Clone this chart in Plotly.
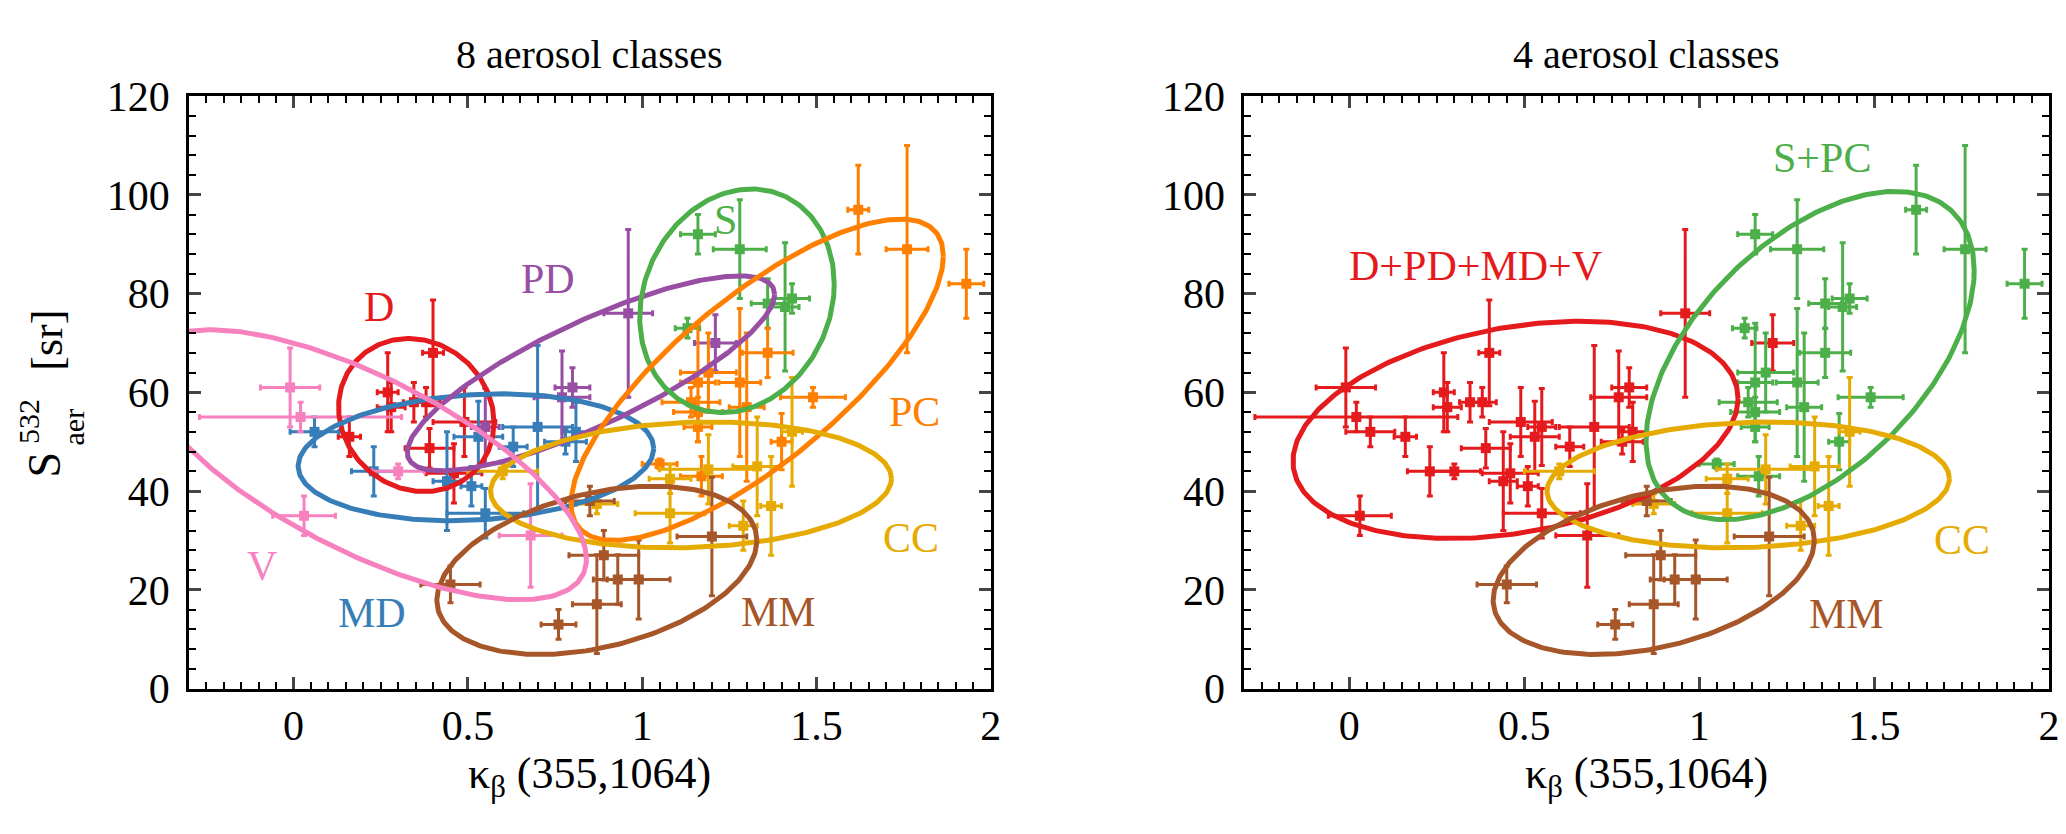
import numpy as np
import plotly.graph_objects as go

# ---- data: kappa_beta(355,1064) vs lidar ratio S_aer(532), per aerosol class ----
d_x = [0.16, 0.27, 0.28, 0.345, 0.38, 0.40, 0.39, 0.49, 0.46]
d_y = [51, 60, 57, 58, 58, 68, 48.7, 54, 43.6]
d_xerr = [0.032, 0.03, 0.04, 0.03, 0.04, 0.03, 0.07, 0.09, 0.08]
d_yerr = [4, 8, 5, 4, 3, 10.7, 4, 7, 6]

md_x = [0.06, 0.23, 0.44, 0.51, 0.55, 0.53, 0.63, 0.70, 0.78, 0.81]
md_y = [52, 44, 42, 41, 35.5, 51, 49, 53, 50, 52]
md_xerr = [0.07, 0.064, 0.04, 0.03, 0.11, 0.07, 0.04, 0.1, 0.06, 0.04]
md_yerr = [3, 5, 10, 4, 5, 7.2, 4, 16.5, 2.5, 6]

pd_x = [0.55, 0.77, 0.80, 0.96, 1.21]
pd_y = [53, 59, 61, 76, 70]
pd_xerr = [0.04, 0.08, 0.05, 0.07, 0.06]
pd_yerr = [7.8, 9.4, 4, 17, 5.7]

v_x = [-0.01, 0.02, 0.03, 0.30, 0.68]
v_y = [61, 55, 35, 44, 31]
v_xerr = [0.085, 0.29, 0.09, 0.075, 0.09]
v_yerr = [8, 3, 4, 1.5, 10.5]

s_x = [1.16, 1.28, 1.36, 1.43, 1.41, 1.13]
s_y = [92, 89, 78, 79, 77.3, 73]
s_xerr = [0.05, 0.076, 0.047, 0.05, 0.04, 0.035]
s_yerr = [4, 10, 5, 3, 13, 2]

pc_x = [1.62, 1.76, 1.93, 1.36, 1.28, 1.30, 1.49, 1.40, 1.19, 1.16, 1.14, 1.16, 1.16, 1.05, 1.17]
pc_y = [97, 89, 82, 68, 62, 57, 59, 50, 64, 62, 58, 56, 53, 45.5, 43]
pc_xerr = [0.03, 0.06, 0.05, 0.073, 0.06, 0.05, 0.093, 0.03, 0.08, 0.05, 0.083, 0.07, 0.04, 0.05, 0.06]
pc_yerr = [9, 21, 7, 5, 15, 15, 2, 5.7, 8, 12, 3, 3, 3, 1, 4]

cc_x = [0.60, 0.87, 1.08, 1.08, 1.19, 1.33, 1.37, 1.29, 1.43]
cc_y = [44, 37.4, 42.5, 35.5, 44.4, 45, 37, 33, 52]
cc_xerr = [0.1, 0.06, 0.06, 0.1, 0.14, 0.07, 0.03, 0.04, 0.03]
cc_yerr = [1.5, 2, 3, 6, 7, 10, 10, 5, 11]

mm_x = [0.85, 1.20, 0.89, 0.93, 0.99, 0.87, 0.76, 0.45]
mm_y = [38, 30.8, 27, 22.1, 22.1, 17.1, 13, 21.1]
mm_xerr = [0.07, 0.1, 0.1, 0.07, 0.09, 0.07, 0.05, 0.085]
mm_yerr = [3, 12, 5, 5, 8, 10, 3, 3.7]

# ellipse parameters: centre x, centre y, half width, half height, correlation
ell_d = [0.352, 55.4, 0.223, 15.5, -0.1]
ell_md = [0.523, 46.85, 0.51, 12.85, 0.14]
ell_pd = [0.853, 63.85, 0.527, 19.75, 0.81]
ell_v = [0.205, 45.35, 0.635, 27.35, -0.70]
ell_s = [1.272, 78.55, 0.279, 22.65, 0.15]
ell_pc = [1.33, 62.55, 0.534, 32.55, 0.77]
ell_cc = [1.14, 41.25, 0.575, 12.75, 0.1]
ell_mm = [0.87, 23.95, 0.459, 17.05, 0.355]
ell_dpmv = [0.475, 52.4, 0.636, 22.0, 0.29]
ell_spc = [1.317, 67.45, 0.469, 33.25, 0.52]

RED = "#e41a1c"
BLUE = "#377eb8"
GREEN = "#4daf4a"
PURPLE = "#984ea3"
ORANGE = "#ff7f00"
BROWN = "#a65628"
PINK = "#f781bf"
GOLD = "#e6ab02"
FONT = "Liberation Serif"

classes = [
    (d_x, d_y, d_xerr, d_yerr, RED, RED),
    (md_x, md_y, md_xerr, md_yerr, BLUE, RED),
    (pd_x, pd_y, pd_xerr, pd_yerr, PURPLE, RED),
    (v_x, v_y, v_xerr, v_yerr, PINK, RED),
    (s_x, s_y, s_xerr, s_yerr, GREEN, GREEN),
    (pc_x, pc_y, pc_xerr, pc_yerr, ORANGE, GREEN),
    (cc_x, cc_y, cc_xerr, cc_yerr, GOLD, GOLD),
    (mm_x, mm_y, mm_xerr, mm_yerr, BROWN, BROWN),
]


def ellipse(p):
    cx, cy, sx, sy, rho = p
    t = np.linspace(0, 2 * np.pi, 300)
    delta = np.arccos(rho)
    return cx + sx * np.cos(t), cy + sy * np.cos(t - delta)


fig = go.Figure()

for x, y, xe, ye, c_left, c_right in classes:
    for c, xa, ya in [(c_left, "x", "y"), (c_right, "x2", "y2")]:
        fig.add_trace(go.Scatter(
            x=x, y=y, mode="markers", xaxis=xa, yaxis=ya, showlegend=False,
            marker=dict(symbol="square", size=10, color=c),
            error_x=dict(type="data", array=xe, color=c, thickness=3, width=3),
            error_y=dict(type="data", array=ye, color=c, thickness=3, width=3),
        ))

left_ell = [(ell_d, RED), (ell_md, BLUE), (ell_pd, PURPLE), (ell_s, GREEN),
            (ell_pc, ORANGE), (ell_cc, GOLD), (ell_mm, BROWN), (ell_v, PINK)]
right_ell = [(ell_dpmv, RED), (ell_spc, GREEN), (ell_cc, GOLD), (ell_mm, BROWN)]

for p, c in left_ell:
    ex, ey = ellipse(p)
    fig.add_trace(go.Scatter(x=ex, y=ey, mode="lines", line=dict(color=c, width=5),
                             xaxis="x", yaxis="y", showlegend=False, hoverinfo="skip"))
for p, c in right_ell:
    ex, ey = ellipse(p)
    fig.add_trace(go.Scatter(x=ex, y=ey, mode="lines", line=dict(color=c, width=5),
                             xaxis="x2", yaxis="y2", showlegend=False, hoverinfo="skip"))

# class labels
labels_left = [("D", 0.245, 77.3, RED), ("PD", 0.73, 83, PURPLE), ("S", 1.24, 95, GREEN),
               ("PC", 1.78, 56, ORANGE), ("CC", 1.77, 30.5, GOLD), ("MM", 1.39, 15.5, BROWN),
               ("MD", 0.225, 15.4, BLUE), ("V", -0.09, 24.8, PINK)]
labels_right = [("D+PD+MD+V", 0.36, 85.5, RED), ("S+PC", 1.35, 107.5, GREEN),
                ("CC", 1.75, 30, GOLD), ("MM", 1.42, 15.1, BROWN)]
for txt, lx, ly, c in labels_left:
    fig.add_annotation(x=lx, y=ly, xref="x", yref="y", text=txt, showarrow=False,
                       xanchor="center", yanchor="middle",
                       font=dict(family=FONT, size=42, color=c))
for txt, lx, ly, c in labels_right:
    fig.add_annotation(x=lx, y=ly, xref="x2", yref="y2", text=txt, showarrow=False,
                       xanchor="center", yanchor="middle",
                       font=dict(family=FONT, size=42, color=c))

W, H = 2066, 834
left_dom = [182 / W, 988 / W]
right_dom = [1243 / W, 2052 / W]
y_dom = [1 - 697 / H, 1 - 70 / H]

tickfont = dict(family=FONT, size=42, color="black")
xax = dict(range=[-0.3, 2], tick0=0, dtick=0.5, ticks="inside", ticklen=12, tickwidth=2.5,
           minor=dict(dtick=0.05, ticks="inside", ticklen=7, tickwidth=2, tickcolor="black"),
           showline=True, linewidth=3, linecolor="black", mirror="allticks",
           showgrid=False, zeroline=False, tickfont=tickfont, ticklabelstandoff=-2)
yax = dict(range=[0, 120], tick0=0, dtick=20, ticks="inside", ticklen=12, tickwidth=2.5,
           minor=dict(dtick=4, ticks="inside", ticklen=7, tickwidth=2, tickcolor="black"),
           showline=True, linewidth=3, linecolor="black", mirror="allticks",
           showgrid=False, zeroline=False, tickfont=tickfont, ticklabelstandoff=8)

fig.update_layout(
    width=W, height=H, margin=dict(l=0, r=0, t=0, b=0),
    paper_bgcolor="white", plot_bgcolor="white",
    xaxis=dict(xax, domain=left_dom, anchor="y"),
    yaxis=dict(yax, domain=y_dom, anchor="x"),
    xaxis2=dict(xax, domain=right_dom, anchor="y2"),
    yaxis2=dict(yax, domain=y_dom, anchor="x2"),
)


def paper_text(txt, px, py, size, angle=0):
    fig.add_annotation(x=px / W, y=1 - py / H, xref="paper", yref="paper", text=txt,
                       textangle=angle, showarrow=False, xanchor="center", yanchor="middle",
                       font=dict(family=FONT, size=size, color="black"))


# titles and axis titles
paper_text("8 aerosol classes", (182 + 988) / 2, 26, 40)
paper_text("4 aerosol classes", (1243 + 2052) / 2, 26, 40)
paper_text("κ<sub>β</sub> (355,1064)", (182 + 988) / 2, 790, 44)
paper_text("κ<sub>β</sub> (355,1064)", (1243 + 2052) / 2, 790, 44)

paper_text("S", 37, 460, 46, -90)
paper_text("532", 20, 414, 30, -90)
paper_text("aer", 66, 420, 30, -90)
paper_text("[sr]", 40, 328, 44, -90)

fig.write_html("out.html")
